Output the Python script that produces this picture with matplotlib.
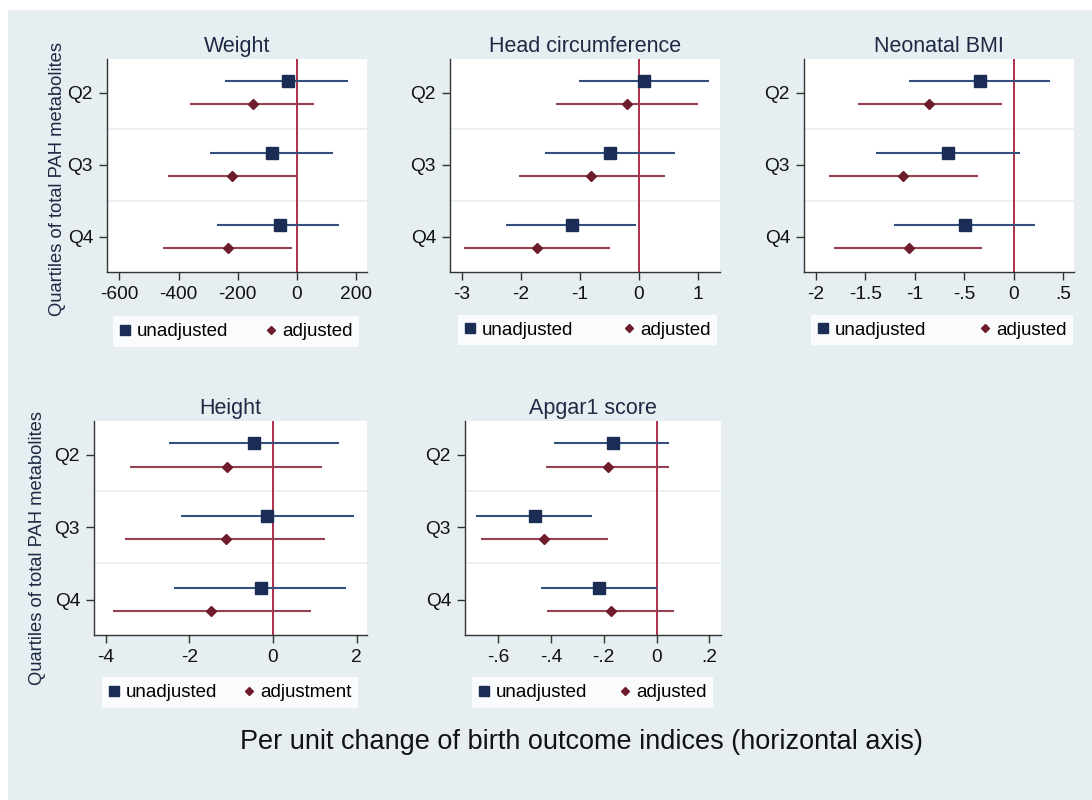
"""
Forest-style panels: birth outcome change by quartile of total PAH metabolites
"""
import matplotlib
matplotlib.use("Agg")
import matplotlib.pyplot as plt
from matplotlib.lines import Line2D
from matplotlib.patches import Rectangle
from matplotlib.ticker import FuncFormatter

plt.rcParams['font.family'] = ['Liberation Sans', 'DejaVu Sans']

quartiles = ["Q2", "Q3", "Q4"]
quartile_pos = [2, 3, 4]

# Weight
weight_unadj = [-29, -85, -58]
weight_unadj_lo = [-243, -294, -271]
weight_unadj_hi = [173, 121, 143]
weight_adj = [-150, -221, -234]
weight_adj_lo = [-360, -435, -452]
weight_adj_hi = [58, 0, -15]
weight_ticks = [-600, -400, -200, 0, 200]

# Head circumference
head_unadj = [0.09, -0.49, -1.13]
head_unadj_lo = [-1.01, -1.60, -2.25]
head_unadj_hi = [1.19, 0.61, -0.05]
head_adj = [-0.20, -0.81, -1.73]
head_adj_lo = [-1.41, -2.04, -2.96]
head_adj_hi = [0.99, 0.44, -0.49]
head_ticks = [-3, -2, -1, 0, 1]

# Neonatal BMI
bmi_unadj = [-0.34, -0.66, -0.49]
bmi_unadj_lo = [-1.06, -1.39, -1.21]
bmi_unadj_hi = [0.37, 0.06, 0.22]
bmi_adj = [-0.86, -1.12, -1.06]
bmi_adj_lo = [-1.57, -1.87, -1.82]
bmi_adj_hi = [-0.12, -0.36, -0.32]
bmi_ticks = [-2, -1.5, -1, -0.5, 0, 0.5]

# Height
height_unadj = [-0.45, -0.13, -0.28]
height_unadj_lo = [-2.49, -2.19, -2.37]
height_unadj_hi = [1.59, 1.94, 1.75]
height_adj = [-1.11, -1.13, -1.49]
height_adj_lo = [-3.41, -3.53, -3.83]
height_adj_hi = [1.18, 1.25, 0.91]
height_ticks = [-4, -2, 0, 2]

# Apgar1 score
apgar_unadj = [-0.165, -0.461, -0.216]
apgar_unadj_lo = [-0.388, -0.684, -0.438]
apgar_unadj_hi = [0.047, -0.243, 0.0]
apgar_adj = [-0.183, -0.425, -0.173]
apgar_adj_lo = [-0.418, -0.665, -0.415]
apgar_adj_hi = [0.047, -0.183, 0.067]
apgar_ticks = [-0.6, -0.4, -0.2, 0, 0.2]

W, H = 1092, 800
BG = '#e6eef1'
NAVY = '#1c2d55'
NAVY_LINE = '#34507e'
MAROON = '#6e1b2b'
MAROON_LINE = '#96424e'
ZERO = '#a8203f'


def px_box(left, top, right, bottom):
    return [left / W, 1 - bottom / H, (right - left) / W, (bottom - top) / H]


def stata_fmt(v, pos=None):
    s = f"{v:g}"
    s = s.replace("0.", ".")
    return s


panels = [
    dict(title="Weight", box=(107, 59, 367, 272), xlim=(-642, 237), ticks=weight_ticks,
         u=weight_unadj, ulo=weight_unadj_lo, uhi=weight_unadj_hi,
         a=weight_adj, alo=weight_adj_lo, ahi=weight_adj_hi,
         legend=(113, 315, 359, 348), labels=("unadjusted", "adjusted"), ylab=(58, 179)),
    dict(title="Head circumference", box=(450, 59, 720, 272), xlim=(-3.2, 1.37), ticks=head_ticks,
         u=head_unadj, ulo=head_unadj_lo, uhi=head_unadj_hi,
         a=head_adj, alo=head_adj_lo, ahi=head_adj_hi,
         legend=(458, 313, 717, 347), labels=("unadjusted", "adjusted"), ylab=None),
    dict(title="Neonatal BMI", box=(804, 59, 1074, 272), xlim=(-2.12, 0.61), ticks=bmi_ticks,
         u=bmi_unadj, ulo=bmi_unadj_lo, uhi=bmi_unadj_hi,
         a=bmi_adj, alo=bmi_adj_lo, ahi=bmi_adj_hi,
         legend=(811, 313, 1073, 347), labels=("unadjusted", "adjusted"), ylab=None),
    dict(title="Height", box=(94, 421, 367, 635), xlim=(-4.28, 2.25), ticks=height_ticks,
         u=height_unadj, ulo=height_unadj_lo, uhi=height_unadj_hi,
         a=height_adj, alo=height_adj_lo, ahi=height_adj_hi,
         legend=(102, 677, 358, 708), labels=("unadjusted", "adjustment"), ylab=(38, 548)),
    dict(title="Apgar1 score", box=(465, 421, 721, 635), xlim=(-0.725, 0.244), ticks=apgar_ticks,
         u=apgar_unadj, ulo=apgar_unadj_lo, uhi=apgar_unadj_hi,
         a=apgar_adj, alo=apgar_adj_lo, ahi=apgar_adj_hi,
         legend=(472, 677, 713, 708), labels=("unadjusted", "adjusted"), ylab=None),
]

fig = plt.figure(figsize=(W / 100, H / 100), dpi=100)
fig.patch.set_facecolor('white')
fig.patches.append(Rectangle((8 / W, 0), 1 - 8 / W, 1 - 10 / H, transform=fig.transFigure,
                             facecolor=BG, edgecolor='none', zorder=-10))

for p in panels:
    ax = fig.add_axes(px_box(*p['box']))
    ax.set_facecolor('white')
    yu = [q - 0.16 for q in quartile_pos]
    ya = [q + 0.16 for q in quartile_pos]

    for g in (2.5, 3.5):
        ax.axhline(g, color=BG, lw=1.2, zorder=1)
    ax.axvline(0, color=ZERO, lw=1.3, zorder=2)

    ax.hlines(yu, p['ulo'], p['uhi'], color=NAVY_LINE, lw=1.5, zorder=3)
    ax.hlines(ya, p['alo'], p['ahi'], color=MAROON_LINE, lw=1.5, zorder=3)
    ax.plot(p['u'], yu, 's', color=NAVY, ms=8.5, zorder=4)
    ax.plot(p['a'], ya, 'D', color=MAROON, ms=5, zorder=4)

    ax.set_xlim(*p['xlim'])
    ax.set_ylim(4.49, 1.53)
    ax.set_xticks(p['ticks'])
    ax.xaxis.set_major_formatter(FuncFormatter(stata_fmt))
    ax.set_yticks(quartile_pos)
    ax.set_yticklabels(quartiles)
    ax.tick_params(axis='both', labelsize=13.8, length=6, width=1, color='#333333',
                   labelcolor='#111111', pad=4)
    for side in ('top', 'right'):
        ax.spines[side].set_visible(False)
    for side in ('left', 'bottom'):
        ax.spines[side].set_color('#333333')
        ax.spines[side].set_linewidth(1)
    ax.set_title(p['title'], fontsize=15.5, color='#1e2a44', pad=5)

    # legend box
    l, t, r, b = p['legend']
    handles = [Line2D([], [], ls='none', marker='s', color=NAVY, ms=7),
               Line2D([], [], ls='none', marker='D', color=MAROON, ms=4.5)]
    leg = fig.legend(handles, p['labels'], loc='center', ncol=2, mode='expand',
                     bbox_to_anchor=((l) / W, 1 - b / H, (r - l) / W, (b - t) / H),
                     frameon=True, fancybox=False, fontsize=13.5, handlelength=0.6,
                     handletextpad=0.3, borderaxespad=0, borderpad=0.35,
                     columnspacing=1.0)
    leg.get_frame().set_facecolor('white')
    leg.get_frame().set_edgecolor('white')
    leg.get_frame().set_linewidth(0)

    if p['ylab'] is not None:
        lx, cy = p['ylab']
        fig.text(lx / W, 1 - cy / H, "Quartiles of total PAH metabolites",
                 rotation=90, ha='center', va='center', fontsize=13.2, color='#1e2a44')

fig.text(581 / W, 1 - 742 / H, "Per unit change of birth outcome indices (horizontal axis)",
         ha='center', va='center', fontsize=19.5, color='#111111')

fig.savefig("out.png", dpi=100, facecolor=fig.get_facecolor())
